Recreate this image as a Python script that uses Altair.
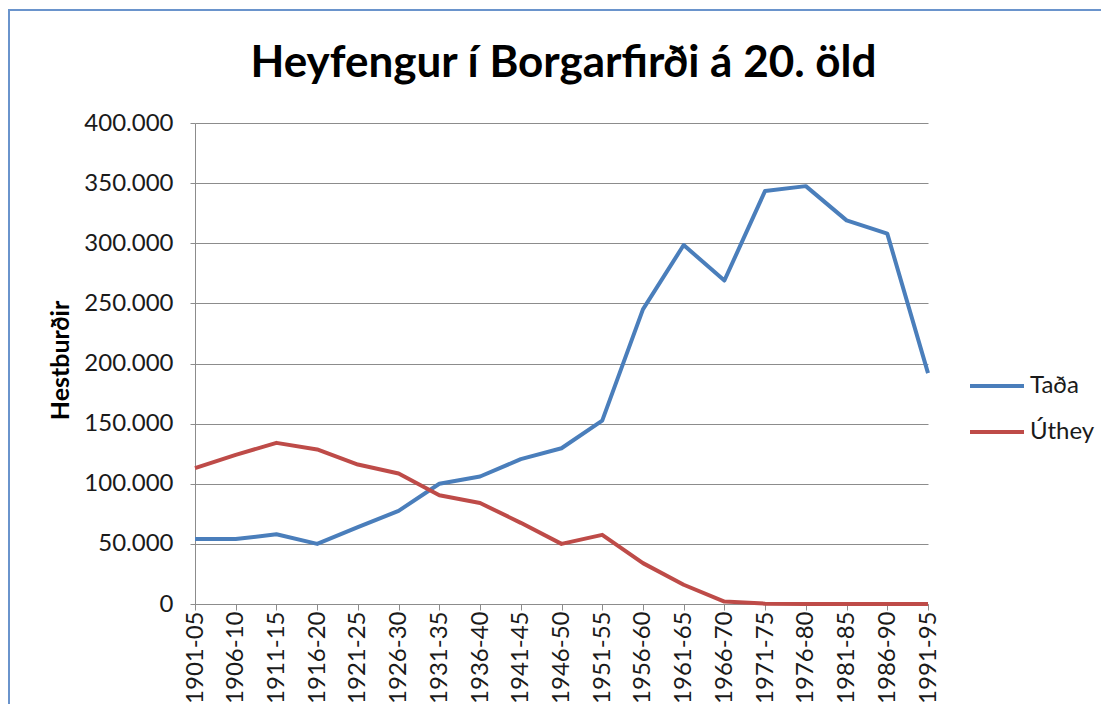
import altair as alt
import pandas as pd

categories = ["1901-05", "1906-10", "1911-15", "1916-20", "1921-25", "1926-30",
              "1931-35", "1936-40", "1941-45", "1946-50", "1951-55", "1956-60",
              "1961-65", "1966-70", "1971-75", "1976-80", "1981-85", "1986-90",
              "1991-95"]
tada = [54000, 54000, 58000, 50000, 64000, 77500, 100000, 106000, 120500, 129500,
        152500, 245000, 298500, 269000, 343500, 347500, 319000, 308000, 192000]
uthey = [113000, 124000, 134000, 128500, 116000, 108500, 90500, 84000, 67500, 50000,
         57500, 34000, 16000, 2000, 300, 0, 0, 0, 0]
series_names = ["Taða", "Úthey"]
series_colors = ["#4A7EBB", "#BE4B48"]
y_ticks = [0, 50000, 100000, 150000, 200000, 250000, 300000, 350000, 400000]
title_text = "Heyfengur í Borgarfirði á 20. öld"

rows = []
for i, c in enumerate(categories):
    rows.append({"tímabil": c, "röð": series_names[0], "gildi": tada[i], "o": i})
    rows.append({"tímabil": c, "röð": series_names[1], "gildi": uthey[i], "o": i})
df = pd.DataFrame(rows)

FONT = "Lato"

lines = alt.Chart(df).mark_line(strokeWidth=4, strokeJoin="round").encode(
    x=alt.X("tímabil:N", sort=categories,
            scale=alt.Scale(type="point", padding=0),
            axis=alt.Axis(title=None, labelAngle=-90, labelAlign="right",
                          labelBaseline="middle", labelFontSize=24, labelFont=FONT,
                          labelColor="#1a1a1a", labelPadding=1, tickSize=6,
                          tickColor="#8c8c8c", domainColor="#8c8c8c", grid=False)),
    y=alt.Y("gildi:Q", scale=alt.Scale(domain=[0, 400000], nice=False),
            axis=alt.Axis(title="Hestburðir", values=y_ticks,
                          labelExpr="replace(format(datum.value, ','), ',', '.')",
                          labelFontSize=24, labelFont=FONT, labelColor="#1a1a1a",
                          labelPadding=17, tickSize=5, tickColor="#8c8c8c",
                          domainColor="#8c8c8c", gridColor="#8c8c8c",
                          titleFont=FONT, titleFontSize=25, titleFontWeight="bold",
                          titleColor="#000000", titleX=-135, titleY=237,
                          titleAlign="center", titleBaseline="middle", titleAngle=270)),
    color=alt.Color("röð:N", scale=alt.Scale(domain=series_names, range=series_colors),
                    legend=alt.Legend(title=None, orient="none", legendX=773, legendY=234,
                                      symbolType="stroke", symbolStrokeWidth=4,
                                      symbolSize=2916, labelFontSize=24, labelFont=FONT,
                                      labelColor="#1a1a1a", labelOffset=4,
                                      rowPadding=5)),
    order="o:Q",
)

border = alt.Chart(pd.DataFrame({"a": [0]})).mark_rect(
    fill=None, stroke="#6A94CC", strokeWidth=2
).encode(x=alt.value(-186), x2=alt.value(1000), y=alt.value(-113), y2=alt.value(700))

title = alt.Chart(pd.DataFrame({"t": [title_text]})).mark_text(
    font=FONT, fontSize=44, fontWeight="bold", color="#000000",
    align="center", baseline="alphabetic"
).encode(text="t:N", x=alt.value(368.5), y=alt.value(-46))

chart = alt.layer(border, title, lines).properties(
    width=733, height=481,
    autosize=alt.AutoSizeParams(type="none"),
    padding={"left": 187, "top": 115, "right": 173, "bottom": 100},
    background="white",
).configure_view(stroke=None)

chart.save("out.html", embed_options={"renderer": "svg", "actions": False})
